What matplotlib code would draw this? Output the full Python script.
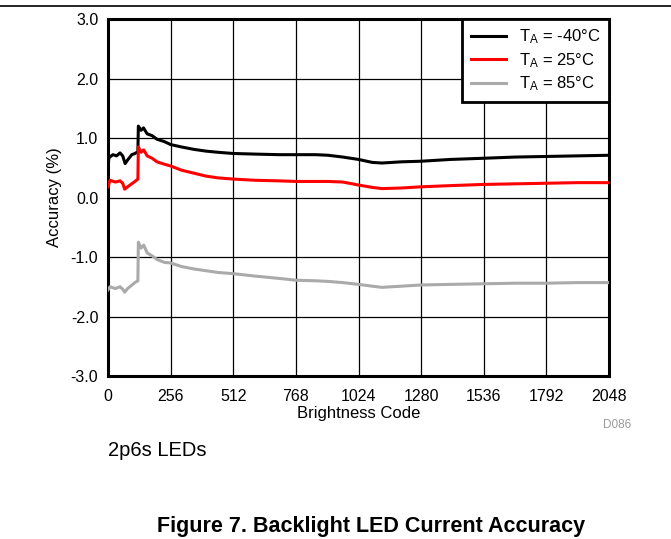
import matplotlib
matplotlib.use("Agg")
import matplotlib.pyplot as plt
from matplotlib.lines import Line2D

plt.rcParams['font.family'] = ['Liberation Sans', 'DejaVu Sans']
plt.rcParams['mathtext.default'] = 'regular'

# values (brightness code -> accuracy %)
code_m40 = [0, 4, 20, 35, 49, 60, 70, 80, 97, 110, 122, 124, 135, 145, 160, 180,
            200, 230, 256, 300, 350, 400, 450, 512, 600, 700, 768, 850, 900, 960,
            1024, 1080, 1120, 1200, 1280, 1400, 1536, 1664, 1792, 1920, 2048]
acc_m40 = [0.55, 0.67, 0.72, 0.70, 0.75, 0.70, 0.57, 0.63, 0.72, 0.74, 0.77, 1.20, 1.13, 1.17, 1.07, 1.04,
           0.98, 0.94, 0.89, 0.85, 0.81, 0.78, 0.76, 0.74, 0.73, 0.72, 0.72, 0.72, 0.71, 0.68,
           0.64, 0.59, 0.58, 0.60, 0.61, 0.64, 0.66, 0.68, 0.69, 0.70, 0.71]

code_25 = [0, 8, 30, 49, 60, 68, 80, 90, 110, 122, 124, 135, 146, 160, 180,
           200, 230, 256, 300, 350, 400, 450, 512, 600, 700, 768, 850, 900, 960,
           1024, 1080, 1120, 1200, 1280, 1400, 1536, 1664, 1792, 1920, 2048]
acc_25 = [0.18, 0.29, 0.26, 0.28, 0.24, 0.14, 0.18, 0.21, 0.27, 0.31, 0.85, 0.76, 0.80, 0.70, 0.66,
          0.60, 0.56, 0.53, 0.46, 0.41, 0.36, 0.33, 0.31, 0.29, 0.28, 0.27, 0.27, 0.27, 0.26,
          0.21, 0.17, 0.15, 0.16, 0.18, 0.20, 0.22, 0.23, 0.24, 0.25, 0.25]

code_85 = [0, 8, 30, 49, 60, 68, 80, 95, 110, 122, 124, 135, 146, 160, 180,
           200, 230, 256, 300, 350, 400, 450, 512, 600, 700, 768, 850, 900, 960,
           1024, 1080, 1120, 1200, 1280, 1400, 1536, 1664, 1792, 1920, 2048]
acc_85 = [-1.55, -1.50, -1.53, -1.50, -1.54, -1.59, -1.53, -1.48, -1.43, -1.40, -0.75, -0.85, -0.80, -0.93, -0.98,
          -1.04, -1.09, -1.10, -1.16, -1.20, -1.23, -1.26, -1.28, -1.32, -1.36, -1.39, -1.40, -1.41, -1.43,
          -1.46, -1.49, -1.51, -1.49, -1.47, -1.46, -1.45, -1.44, -1.44, -1.43, -1.43]

series = [
    (code_m40, acc_m40, 'black', r'T$_A$ = -40°C'),
    (code_25, acc_25, 'red', r'T$_A$ = 25°C'),
    (code_85, acc_85, '#aaaaaa', r'T$_A$ = 85°C'),
]

x_ticks = [0, 256, 512, 768, 1024, 1280, 1536, 1792, 2048]
y_ticks = [-3.0, -2.0, -1.0, 0.0, 1.0, 2.0, 3.0]

fig = plt.figure(figsize=(6.71, 5.39), dpi=100)
ax = fig.add_axes([0.161, 0.3024, 0.7466, 0.6623])

for xs, ys, col, lab in series:
    ax.plot(xs, ys, color=col, lw=2.2, label=lab, zorder=3)

ax.set_xlim(0, 2048)
ax.set_ylim(-3, 3)
ax.set_xticks(x_ticks)
ax.set_yticks(y_ticks)
ax.set_yticklabels(['%.1f' % v for v in y_ticks])
ax.grid(True, color='black', lw=0.9)
ax.tick_params(length=0, labelsize=11.5, pad=7)
ax.tick_params(axis='x', pad=9)
for s in ax.spines.values():
    s.set_linewidth(2.2)

ax.set_xlabel('Brightness Code', fontsize=12, labelpad=2)
ax.set_ylabel('Accuracy (%)', fontsize=12, labelpad=6)

leg = ax.legend(loc='upper right', borderaxespad=0, fontsize=12, frameon=True,
                fancybox=False, handlelength=2.1, labelspacing=0.3,
                borderpad=0.5, handletextpad=0.8)
leg.get_frame().set_edgecolor('black')
leg.get_frame().set_linewidth(2.0)
leg.get_frame().set_alpha(1)

fig.text(0.941, 0.211, 'D086', fontsize=8.5, color='#999999', ha='right', va='center')
fig.text(0.161, 0.165, '2p6s LEDs', fontsize=14.5, ha='left', va='center')
fig.text(0.553, 0.024, 'Figure 7. Backlight LED Current Accuracy', fontsize=15.5,
         fontweight='bold', ha='center', va='center')
fig.add_artist(Line2D([0, 1], [1 - 6 / 539, 1 - 6 / 539], color='black', lw=1.2,
                      transform=fig.transFigure))

fig.savefig('out.png', dpi=100)
